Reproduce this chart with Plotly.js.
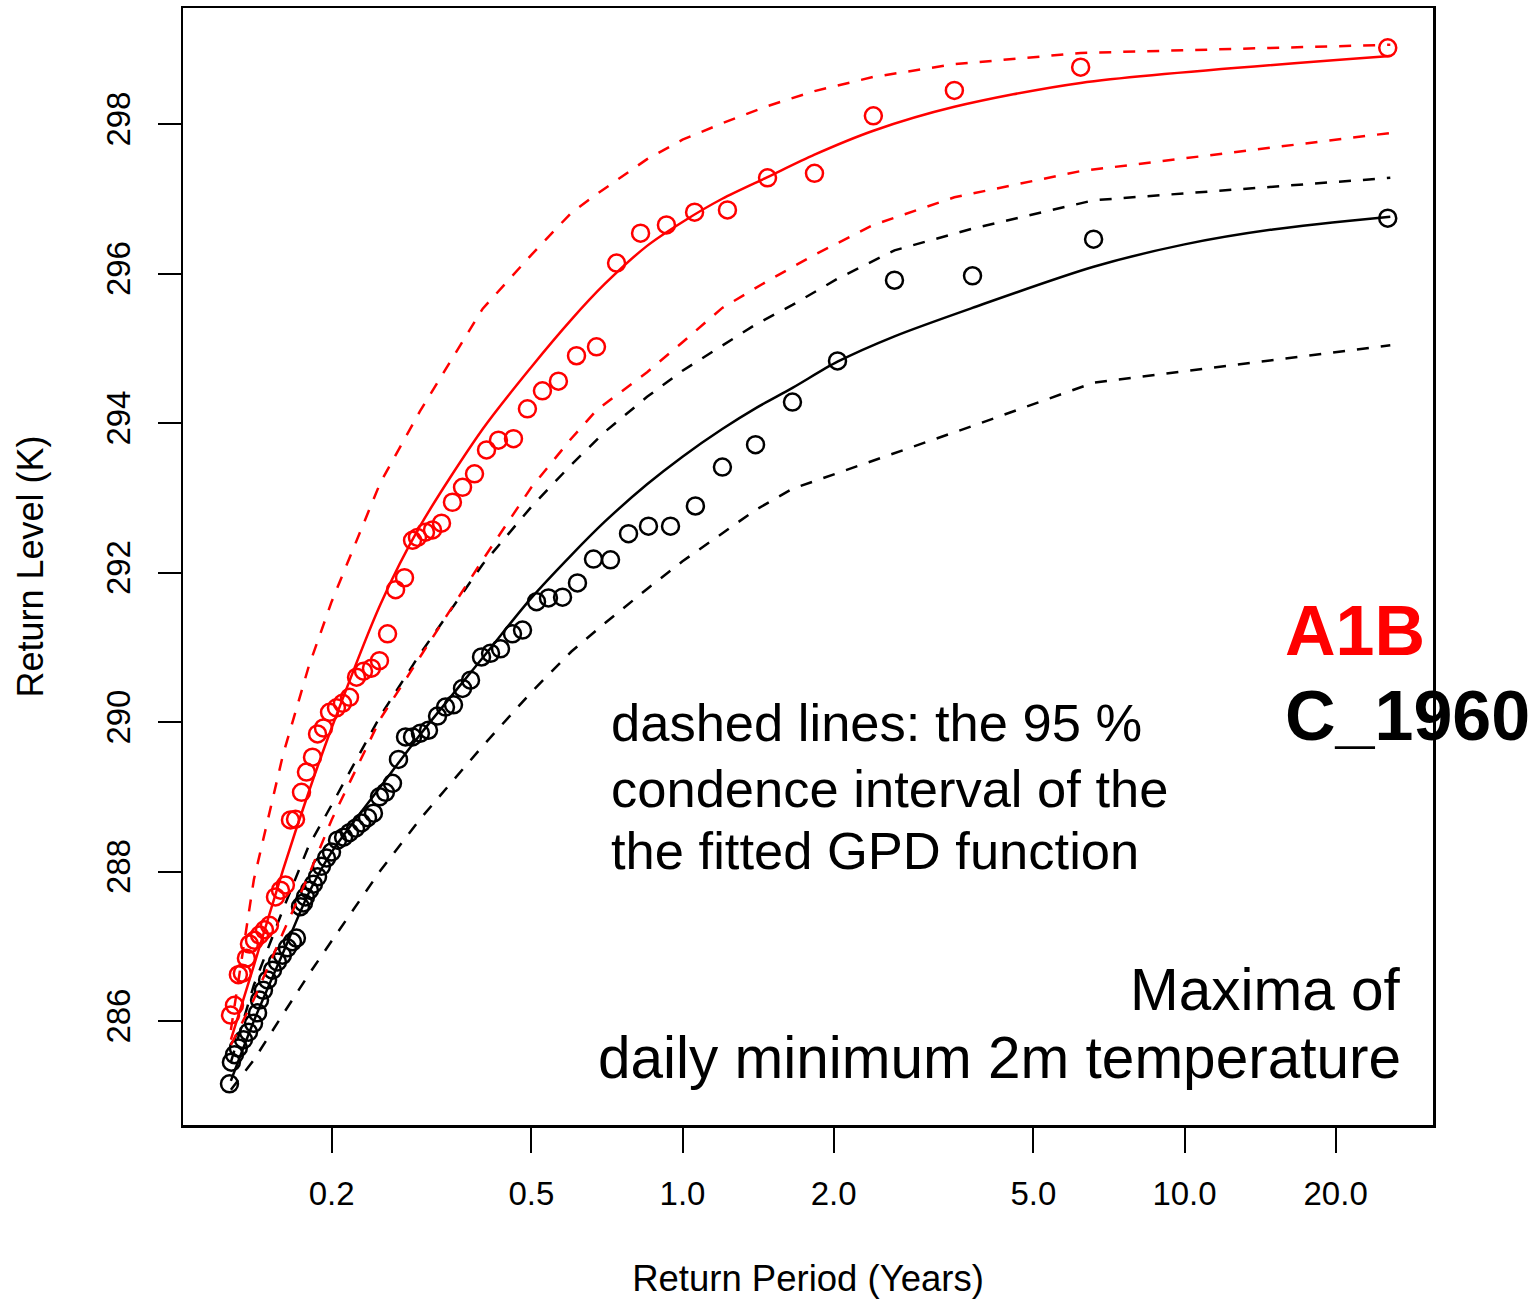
<!DOCTYPE html>
<html>
<head>
<meta charset="utf-8">
<script src="https://cdn.plot.ly/plotly-3.0.1.min.js"></script>
<style>
  html, body { margin: 0; padding: 0; background: #ffffff; }
  #chart { width: 1535px; height: 1299px; }
</style>
</head>
<body>
<div id="chart"></div>
<script>
// Empirical return levels (plotting positions), A1B scenario
const redPeriod = [25.4, 6.21, 3.48, 2.40, 1.832, 1.477, 1.229, 1.057, 0.929, 0.825,
  0.739, 0.674, 0.615, 0.566, 0.526, 0.491, 0.4606, 0.4299, 0.4070, 0.3852,
  0.3646, 0.3481, 0.3311, 0.3177, 0.3076, 0.2965, 0.2899, 0.2794, 0.2682, 0.2585,
  0.2491, 0.2401, 0.2315, 0.2242, 0.2171, 0.2102, 0.2045, 0.1981, 0.1927, 0.1875,
  0.1832, 0.1782, 0.1742, 0.1695, 0.1656, 0.1618, 0.1582, 0.1546, 0.1504, 0.1470,
  0.1437, 0.1404, 0.1372, 0.1353, 0.1328, 0.1304, 0.1281, 0.1258];
const redLevel = [299.02, 298.76, 298.45, 298.11, 297.34, 297.28, 296.85, 296.82, 296.65, 296.54,
  296.14, 295.02, 294.90, 294.56, 294.43, 294.19, 293.79, 293.77, 293.64, 293.32,
  293.14, 292.94, 292.66, 292.57, 292.54, 292.47, 292.43, 291.93, 291.77, 291.18,
  290.82, 290.72, 290.68, 290.60, 290.33, 290.25, 290.19, 290.13, 289.92, 289.84,
  289.53, 289.33, 289.06, 288.70, 288.69, 287.82, 287.75, 287.66, 287.28, 287.22,
  287.15, 287.08, 287.03, 286.84, 286.64, 286.62, 286.21, 286.08];

// Empirical return levels (plotting positions), C_1960 control run
const blackPeriod = [25.4, 6.59, 3.782, 2.644, 2.036, 1.656, 1.398, 1.201, 1.061, 0.9465,
  0.8555, 0.7807, 0.7188, 0.6648, 0.6177, 0.5768, 0.5408, 0.5119, 0.4801, 0.4585,
  0.4340, 0.4146, 0.3978, 0.3782, 0.3646, 0.3498, 0.3372, 0.3251, 0.3119, 0.3006,
  0.2899, 0.2807, 0.2718, 0.2644, 0.2560, 0.2491, 0.2423, 0.2358, 0.2294, 0.2232,
  0.2171, 0.2113, 0.2055, 0.1999, 0.1954, 0.1909, 0.1875, 0.1840, 0.1807, 0.1774,
  0.1758, 0.1734, 0.1702, 0.1671, 0.1633, 0.1596, 0.1560, 0.1525, 0.1491, 0.1463,
  0.1437, 0.1424, 0.1398, 0.1366, 0.1335, 0.1304, 0.1281, 0.1263, 0.1252];
const blackLevel = [296.74, 296.46, 295.97, 295.91, 294.83, 294.28, 293.71, 293.41, 292.89, 292.62,
  292.62, 292.52, 292.17, 292.18, 291.86, 291.67, 291.66, 291.61, 291.23, 291.18,
  290.98, 290.92, 290.87, 290.56, 290.45, 290.23, 290.20, 290.08, 289.89, 289.85,
  289.80, 289.80, 289.50, 289.18, 289.06, 289.00, 288.78, 288.72, 288.65, 288.58,
  288.52, 288.46, 288.42, 288.26, 288.18, 288.07, 287.93, 287.83, 287.75, 287.66,
  287.58, 287.53, 287.11, 287.06, 286.98, 286.88, 286.79, 286.68, 286.55, 286.41,
  286.28, 286.11, 285.97, 285.85, 285.75, 285.64, 285.55, 285.45, 285.16];

// Fitted GPD return level curve, A1B
const redFitPeriod = [0.126, 0.14, 0.16, 0.18, 0.2, 0.25, 0.3, 0.4, 0.5, 0.6,
  0.7, 0.85, 1.0, 1.2, 1.477, 1.832, 2.40, 3.48, 6.21, 25.7];
const redFit = [285.75, 286.74, 288.02, 289.06, 289.92, 291.57, 292.62, 293.92, 294.75, 295.38,
  295.86, 296.37, 296.69, 297.00, 297.29, 297.59, 297.91, 298.23, 298.55, 298.91];

// 95 % confidence bounds, A1B
const redBandPeriod = [0.126, 0.14, 0.16, 0.18, 0.2, 0.25, 0.3, 0.4, 0.5, 0.6,
  0.674, 0.85, 1.0, 1.2, 1.477, 1.832, 2.40, 3.48, 6.21, 25.7];
const redLower = [285.68, 286.29, 287.18, 287.95, 288.69, 290.04, 290.87, 292.17, 293.14, 293.79,
  294.17, 294.68, 295.08, 295.54, 295.90, 296.25, 296.65, 297.02, 297.37, 297.88];
const redUpper = [285.88, 287.89, 289.56, 290.74, 291.61, 293.20, 294.16, 295.53, 296.25, 296.81,
  297.06, 297.53, 297.79, 298.01, 298.24, 298.44, 298.63, 298.80, 298.95, 299.06];

// Fitted GPD return level curve, C_1960
const blackFitPeriod = [0.126, 0.14, 0.16, 0.18, 0.2, 0.25, 0.3, 0.4, 0.5, 0.6,
  0.7, 0.85, 1.0, 1.2, 1.4, 1.656, 2.036, 2.644, 3.78, 6.59, 10, 15, 25.7];
const blackFit = [285.20, 286.00, 286.91, 287.71, 288.26, 289.13, 289.83, 290.86, 291.66, 292.23,
  292.68, 293.18, 293.55, 293.92, 294.20, 294.47, 294.82, 295.16, 295.54, 296.09, 296.39, 296.59, 296.76];

// 95 % confidence bounds, C_1960
const blackBandPeriod = [0.126, 0.14, 0.16, 0.18, 0.2, 0.25, 0.3, 0.4, 0.5, 0.6,
  0.7, 0.85, 1.0, 1.4, 1.656, 2.036, 2.644, 3.78, 6.59, 25.7];
const blackLower = [285.08, 285.48, 286.09, 286.62, 287.07, 288.01, 288.70, 289.68, 290.40, 290.94,
  291.32, 291.78, 292.15, 292.84, 293.12, 293.33, 293.60, 293.96, 294.54, 295.04];
const blackUpper = [285.45, 286.48, 287.49, 288.34, 288.89, 290.08, 290.91, 292.11, 292.88, 293.44,
  293.88, 294.35, 294.70, 295.32, 295.58, 295.93, 296.31, 296.60, 296.98, 297.28];

// Axis ticks
const xTickVals = [0.2, 0.5, 1, 2, 5, 10, 20];
const xTickText = ['0.2', '0.5', '1.0', '2.0', '5.0', '10.0', '20.0'];
const yTickVals = [286, 288, 290, 292, 294, 296, 298];

const RED = '#ff0000';
const BLACK = '#000000';
const FONT = 'Liberation Sans, Arial, Helvetica, sans-serif';

function dashed(x, y, color) {
  return { x: x, y: y, type: 'scatter', mode: 'lines', hoverinfo: 'skip',
    line: { color: color, width: 2.5, dash: '12px,12px' } };
}
function solid(x, y, color) {
  return { x: x, y: y, type: 'scatter', mode: 'lines', hoverinfo: 'skip',
    line: { color: color, width: 2.5, shape: 'spline', smoothing: 0.8 } };
}
function points(x, y, color) {
  return { x: x, y: y, type: 'scatter', mode: 'markers', hoverinfo: 'skip',
    marker: { symbol: 'circle-open', size: 17, color: color, line: { color: color, width: 2.5 } } };
}

const traces = [
  dashed(blackBandPeriod, blackLower, BLACK),
  dashed(blackBandPeriod, blackUpper, BLACK),
  solid(blackFitPeriod, blackFit, BLACK),
  points(blackPeriod, blackLevel, BLACK),
  dashed(redBandPeriod, redLower, RED),
  dashed(redBandPeriod, redUpper, RED),
  solid(redFitPeriod, redFit, RED),
  points(redPeriod, redLevel, RED)
];

function note(text, x, y, size, opts) {
  return Object.assign({ text: text, xref: 'paper', yref: 'paper', x: x, y: y,
    showarrow: false, xanchor: 'left', yanchor: 'middle',
    font: { family: FONT, size: size, color: BLACK } }, opts || {});
}

const layout = {
  width: 1535, height: 1299,
  margin: { l: 183, r: 102, t: 8, b: 174, pad: 0 },
  paper_bgcolor: '#ffffff', plot_bgcolor: '#ffffff',
  showlegend: false,
  font: { family: FONT, color: BLACK },
  xaxis: {
    type: 'log', range: [-0.995, 1.495], autorange: false,
    tickmode: 'array', tickvals: xTickVals, ticktext: xTickText,
    ticks: 'outside', ticklen: 25, tickwidth: 2, tickcolor: BLACK,
    showline: true, linecolor: BLACK, linewidth: 2.5, mirror: true,
    showgrid: false, zeroline: false,
    tickfont: { family: FONT, size: 33, color: BLACK },
    ticklabelstandoff: 13,
    title: { text: 'Return Period (Years)', font: { family: FONT, size: 36.5, color: BLACK }, standoff: 56 }
  },
  yaxis: {
    range: [284.609, 299.552], autorange: false,
    tickmode: 'array', tickvals: yTickVals,
    tickangle: -90,
    ticks: 'outside', ticklen: 23, tickwidth: 2, tickcolor: BLACK,
    showline: true, linecolor: BLACK, linewidth: 2.5, mirror: true,
    showgrid: false, zeroline: false,
    tickfont: { family: FONT, size: 33, color: BLACK },
    ticklabelstandoff: 14,
    title: { text: 'Return Level (K)', font: { family: FONT, size: 36, color: BLACK }, standoff: 46 }
  },
  annotations: [
    note('dashed lines: the 95 %', 0.3408, 0.360, 52.5),
    note('condence interval of the', 0.3408, 0.3015, 52.5),
    note('the fitted GPD function', 0.3408, 0.2455, 52.5),
    note('Maxima of', 0.976, 0.1215, 58.5, { xanchor: 'right' }),
    note('daily minimum 2m temperature', 0.976, 0.0600, 58.5, { xanchor: 'right' }),
    note('<b>A1B</b>', 0.880, 0.4423, 70, { font: { family: FONT, size: 70, color: RED } }),
    note('<b>C_1960</b>', 0.880, 0.3662, 70)
  ]
};

Plotly.newPlot('chart', traces, layout, { displayModeBar: false, staticPlot: true });
</script>
</body>
</html>
